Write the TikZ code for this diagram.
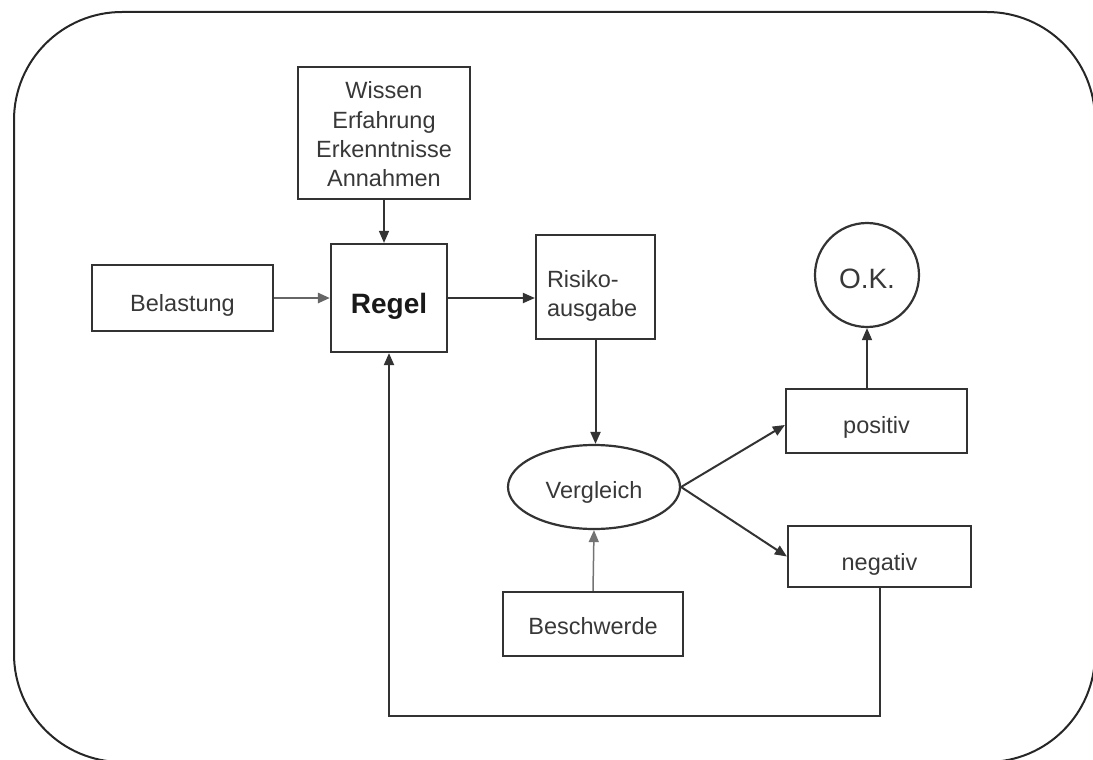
\documentclass[tikz,border=0pt]{standalone}
\usepackage{fontspec}
\setmainfont{Liberation Sans}
\usetikzlibrary{shapes.geometric,arrows.meta,calc}
\definecolor{linec}{HTML}{333333}
\definecolor{textc}{HTML}{383838}
\tikzset{
  box/.style={draw=linec, line width=2.2pt, rectangle, inner sep=0pt, text=textc,
    font=\fontsize{23.5}{29.3}\selectfont, align=center, text depth=0pt},
  arr/.style={draw=linec, line width=2pt, -{Triangle[length=12pt,width=10pt]}},
  thinarr/.style={draw=black!55, line width=1.5pt, -{Triangle[length=12pt,width=10pt]}},
  frame/.style={draw=black!85, line width=2pt, rounded corners=108pt}
}
\begin{document}
\begin{tikzpicture}[x=1pt,y=-1pt]
\useasboundingbox (0,0) rectangle (1093,760);
\draw[frame] (14,12) rectangle (1095,762);

\node[box, minimum width=172pt, minimum height=132pt, text width=170pt,
  text height=10pt, text depth=78pt] (wissen) at (384,133)
  {Wissen\\Erfahrung\\Erkenntnisse\\Annahmen};
\node[box, minimum width=116pt, minimum height=108pt, text height=30pt,
  font=\fontsize{28}{30}\selectfont\bfseries, text=black!90] (regel) at (389,298) {Regel};
\node[box, minimum width=181pt, minimum height=66pt, text height=26pt] (belast) at (182.5,298) {Belastung};
\node[box, minimum width=119pt, minimum height=104pt, align=left, text width=97pt,
  text height=30pt, text depth=30pt] (risiko) at (595.5,287)
  {Risiko-\\ausgabe};
\node[box, circle, minimum size=104pt, text height=26pt, font=\fontsize{28}{30}\selectfont] (ok) at (867,275) {O.K.};
\node[box, minimum width=181pt, minimum height=64pt, text height=24pt] (pos) at (876.5,421) {positiv};
\node[box, minimum width=183pt, minimum height=61pt, text height=28pt] (neg) at (879.5,556.5) {negativ};
\node[box, ellipse, minimum width=172pt, minimum height=84pt, text height=22pt] (verg) at (594,487) {Vergleich};
\node[box, minimum width=180pt, minimum height=64pt, text height=20pt] (besch) at (593,624) {Beschwerde};
\coordinate (fb) at (0,716);

\draw[arr, line width=2.6pt, draw=black!60] (belast.east) -- (regel.west);
\draw[arr, line width=1.5pt] (wissen.south) -- (wissen.south |- regel.north);
\draw[arr] (regel.east |- 0,298) -- (risiko.west |- 0,298);
\draw[arr] (risiko.south) -- (risiko.south |- verg.north);
\draw[arr] (verg.east) -- ($(pos.west)+(0,4)$);
\draw[arr] (verg.east) -- (neg.west);
\draw[thinarr] (besch.north) -- (verg.south);
\draw[arr, line width=1.5pt] (ok.south |- pos.north) -- (ok.south);
\draw[arr] (neg.south) -- (neg.south |- fb) -| (regel.south);
\end{tikzpicture}
\end{document}
